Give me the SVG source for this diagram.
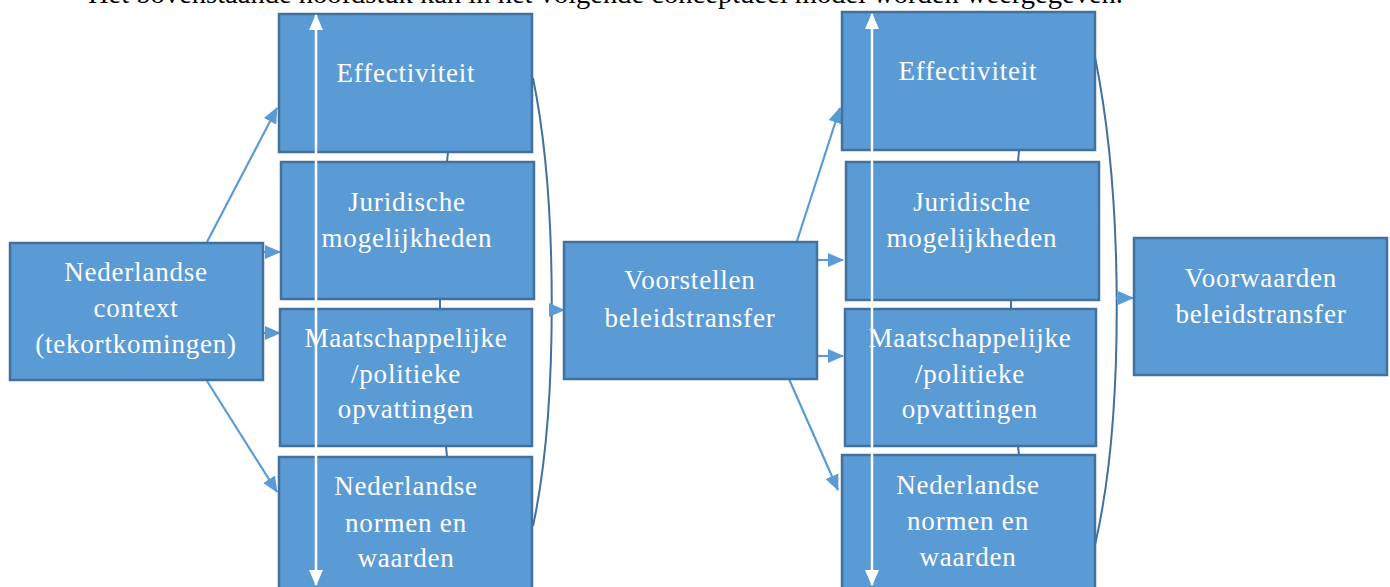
<svg xmlns="http://www.w3.org/2000/svg" width="1390" height="587" viewBox="0 0 1390 587">
<defs>
<style>
.box{fill:#5B9BD5;stroke:#41719C;stroke-width:2.5}
.lbl{font-family:"Liberation Serif","Times New Roman",serif;font-size:27px;fill:#FFFFFF;text-anchor:middle;letter-spacing:0.8px}
.arr{fill:none;stroke:#5B9BD5;stroke-width:2.2;marker-end:url(#ah)}
.link{fill:none;stroke:#41719C;stroke-width:2}
.dbl{stroke:#FFFFFF;stroke-width:2.5;marker-start:url(#wh);marker-end:url(#wh)}
.body{font-family:"Liberation Serif","Times New Roman",serif;font-size:27px;fill:#000000}
</style>
<marker id="ah" markerUnits="userSpaceOnUse" markerWidth="16" markerHeight="16" viewBox="0 0 16 16" refX="15" refY="8" orient="auto">
<path d="M0,1 L16,8 L0,15 Z" fill="#5B9BD5"/>
</marker>
<marker id="wh" markerUnits="userSpaceOnUse" markerWidth="16" markerHeight="16" viewBox="0 0 16 16" refX="15" refY="8" orient="auto-start-reverse">
<path d="M0,1 L16,8 L0,15 Z" fill="#FFFFFF"/>
</marker>
</defs>
<rect width="1390" height="587" fill="#FFFFFF"/>
<text class="body" x="88" y="3" textLength="1035" lengthAdjust="spacingAndGlyphs">Het bovenstaande hoofdstuk kan in het volgende conceptueel model worden weergegeven.</text>

<g id="connectors">
<line class="arr" x1="207" y1="242" x2="277" y2="108"/>
<line class="arr" x1="263" y1="252" x2="280" y2="252"/>
<line class="arr" x1="263" y1="333" x2="280" y2="333"/>
<line class="arr" x1="207" y1="381" x2="277" y2="492"/>
<path class="link" d="M533,78 C558,200 558,410 533,526"/>
<line class="arr" x1="550" y1="310" x2="564" y2="310"/>
<line class="link" x1="448" y1="152" x2="447" y2="162"/>
<line class="link" x1="440" y1="299" x2="440" y2="309"/>
<line class="link" x1="446" y1="446" x2="447" y2="457"/>
<line class="arr" x1="797" y1="241" x2="840" y2="108"/>
<line class="arr" x1="817" y1="260" x2="843" y2="260"/>
<line class="arr" x1="817" y1="356" x2="843" y2="356"/>
<line class="arr" x1="789" y1="379" x2="838" y2="490"/>
<path class="link" d="M1095,57 C1124,200 1124,420 1095,545"/>
<line class="arr" x1="1116" y1="298" x2="1133" y2="298"/>
<line class="link" x1="1019" y1="150" x2="1018" y2="162"/>
<line class="link" x1="1011" y1="300" x2="1011" y2="309"/>
<line class="link" x1="1018" y1="446" x2="1019" y2="455"/>
</g>

<g id="context">
<rect class="box" x="10" y="243" width="253" height="137"/>
<text class="lbl" x="136" y="281">Nederlandse</text>
<text class="lbl" x="136" y="317">context</text>
<text class="lbl" x="136" y="353">(tekortkomingen)</text>
</g>

<g id="effectiviteit1">
<rect class="box" x="279" y="14" width="253" height="138"/>
<text class="lbl" x="406" y="82">Effectiviteit</text>
</g>
<g id="juridische1">
<rect class="box" x="281" y="162" width="253" height="137"/>
<text class="lbl" x="407" y="211">Juridische</text>
<text class="lbl" x="407" y="247">mogelijkheden</text>
</g>
<g id="maatschappelijke1">
<rect class="box" x="280" y="309" width="252" height="137"/>
<text class="lbl" x="406" y="347">Maatschappelijke</text>
<text class="lbl" x="406" y="383">/politieke</text>
<text class="lbl" x="406" y="418">opvattingen</text>
</g>
<g id="normen1">
<rect class="box" x="279" y="457" width="253" height="140"/>
<text class="lbl" x="406" y="495">Nederlandse</text>
<text class="lbl" x="406" y="532">normen en</text>
<text class="lbl" x="406" y="567">waarden</text>
</g>

<g id="voorstellen">
<rect class="box" x="564" y="242" width="253" height="137"/>
<text class="lbl" x="690" y="289">Voorstellen</text>
<text class="lbl" x="690" y="327">beleidstransfer</text>
</g>

<g id="effectiviteit2">
<rect class="box" x="842" y="12" width="253" height="138"/>
<text class="lbl" x="968" y="80">Effectiviteit</text>
</g>
<g id="juridische2">
<rect class="box" x="846" y="162" width="253" height="138"/>
<text class="lbl" x="972" y="211">Juridische</text>
<text class="lbl" x="972" y="247">mogelijkheden</text>
</g>
<g id="maatschappelijke2">
<rect class="box" x="845" y="309" width="251" height="137"/>
<text class="lbl" x="970" y="347">Maatschappelijke</text>
<text class="lbl" x="970" y="383">/politieke</text>
<text class="lbl" x="970" y="418">opvattingen</text>
</g>
<g id="normen2">
<rect class="box" x="842" y="455" width="253" height="142"/>
<text class="lbl" x="968" y="494">Nederlandse</text>
<text class="lbl" x="968" y="530">normen en</text>
<text class="lbl" x="968" y="566">waarden</text>
</g>

<g id="voorwaarden">
<rect class="box" x="1134" y="238" width="253" height="137"/>
<text class="lbl" x="1261" y="287">Voorwaarden</text>
<text class="lbl" x="1261" y="323">beleidstransfer</text>
</g>

<g id="double-arrows">
<line class="dbl" x1="316" y1="15" x2="316" y2="585"/>
<line class="dbl" x1="872" y1="14" x2="872" y2="585"/>
</g>
</svg>
